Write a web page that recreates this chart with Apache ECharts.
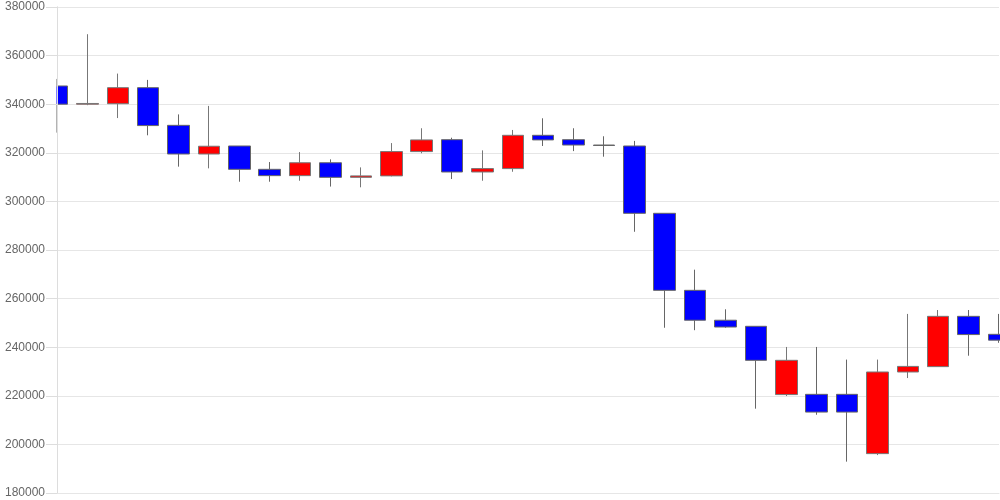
<!DOCTYPE html>
<html>
<head>
<meta charset="utf-8">
<script src="https://cdn.jsdelivr.net/npm/echarts@6/dist/echarts.min.js"></script>
<style>html,body{margin:0;padding:0;background:#fff}#c{width:1000px;height:500px}</style>
</head>
<body>
<div id="c"></div>
<script>
var categories = ['1','2','3','4','5','6','7','8','9','10','11','12','13','14','15','16','17','18','19','20','21','22','23','24','25','26','27','28','29','30','31','32'];
var openValues  = [347500,340000,340200,346800,331300,319500,322800,313200,310600,315900,309900,310500,320500,325400,312100,313500,327200,325400,323200,322800,295100,263400,251100,248600,220500,220600,220600,196200,229800,232000,252700,245300];
var closeValues = [340000,340300,346800,331200,319500,322700,313200,310600,315900,309900,310500,320500,325300,312100,313500,327200,325300,323200,323000,295100,263400,251100,248300,234600,234600,213300,213300,229800,232100,252700,245200,242900];
var lowValues   = [328300,339600,334300,327200,314300,313600,308100,308100,308500,306100,305800,310300,319800,309200,308500,312200,322800,320700,318400,287500,248000,247000,248000,214700,219900,212200,192900,195600,227300,232000,236500,241800];
var highValues  = [350400,368800,352600,350000,335800,339300,322800,316200,320300,317300,314000,324000,330100,326200,321000,329400,334200,330100,326800,324900,295100,271900,255600,248600,240100,240100,234900,234900,253700,255300,255300,253700];
var yTicks = [180000,200000,220000,240000,260000,280000,300000,320000,340000,360000,380000];

var ohlc = categories.map(function(c,i){return [openValues[i],closeValues[i],lowValues[i],highValues[i]];});
var yMin = yTicks[0], yMax = yTicks[yTicks.length-1];
var chart = echarts.init(document.getElementById('c'));
chart.setOption({
  animation:false,
  backgroundColor:'#fff',
  grid:{left:57,right:1,top:7,bottom:7},
  graphic:[{type:'rect',left:0,top:0,shape:{x:0,y:0,width:56.5,height:500},style:{fill:'#fff'},z:5}],
  xAxis:{type:'category',data:categories,boundaryGap:false,
    axisLine:{show:true,lineStyle:{color:'#e6e6e6'}},axisTick:{show:false},axisLabel:{show:false},splitLine:{show:false}},
  yAxis:[
    {type:'value',min:yMin,max:yMax,interval:20000,
      axisLine:{show:true,lineStyle:{color:'#dddddd'}},axisTick:{show:false},axisLabel:{show:false},
      splitLine:{show:true,lineStyle:{color:'#e6e6e6'}}},
    {type:'value',position:'left',min:yMin,max:yMax,interval:20000,z:10,
      axisLine:{show:true,lineStyle:{color:'#dddddd'}},
      axisTick:{show:true,length:11,lineStyle:{color:'#dddddd'}},
      axisLabel:{margin:12,color:'#666',fontSize:12,fontFamily:'Liberation Sans, Arial, sans-serif',
        formatter:function(v){return String(v);}},
      splitLine:{show:false}}
  ],
  series:[{type:'candlestick',data:ohlc,barWidth:22,clip:true,
    itemStyle:{color:'#ff0000',color0:'#0000ff',borderColor:'#777',borderColor0:'#666',borderWidth:1}}]
});
</script>
</body>
</html>
